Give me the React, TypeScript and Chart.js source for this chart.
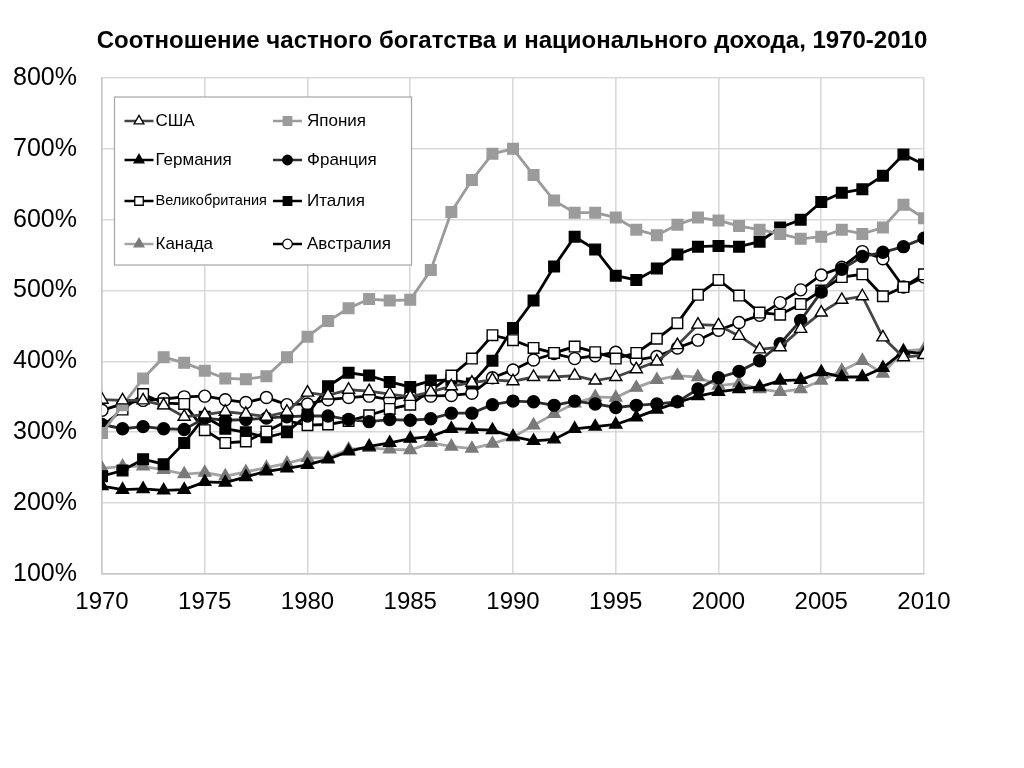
import React, { useEffect, useRef } from "react";
import { Chart, registerables } from "chart.js";
import { drawPoint } from "chart.js/helpers";

Chart.register(...registerables);

const years = [
  1970, 1971, 1972, 1973, 1974, 1975, 1976, 1977, 1978, 1979,
  1980, 1981, 1982, 1983, 1984, 1985, 1986, 1987, 1988, 1989,
  1990, 1991, 1992, 1993, 1994, 1995, 1996, 1997, 1998, 1999,
  2000, 2001, 2002, 2003, 2004, 2005, 2006, 2007, 2008, 2009, 2010,
];

const usa = [346, 345, 345, 338, 322, 325, 329, 326, 322, 329, 356, 352, 360, 358, 354, 350, 357, 365, 370, 374, 372, 378, 378, 380, 373, 378, 389, 400, 423, 452, 451, 436, 417, 420, 446, 469, 487, 492, 434, 406, 409];
const japan = [299, 338, 376, 406, 398, 387, 376, 375, 379, 406, 435, 457, 475, 488, 486, 487, 529, 611, 656, 693, 700, 663, 627, 610, 610, 603, 586, 578, 593, 603, 599, 591, 586, 580, 573, 576, 586, 580, 589, 621, 602];
const germany = [224, 219, 220, 218, 219, 230, 229, 237, 245, 249, 254, 262, 273, 280, 285, 291, 294, 305, 304, 303, 294, 288, 290, 305, 308, 311, 321, 332, 342, 351, 357, 361, 364, 373, 374, 385, 378, 378, 391, 414, 411];
const france = [311, 305, 308, 305, 304, 320, 317, 318, 320, 322, 323, 323, 318, 315, 318, 317, 319, 327, 327, 339, 344, 343, 338, 344, 340, 335, 338, 340, 343, 361, 377, 386, 401, 425, 458, 498, 530, 548, 554, 562, 574];
const uk = [308, 332, 354, 341, 340, 303, 285, 287, 301, 316, 310, 311, 316, 324, 333, 339, 359, 380, 404, 437, 430, 419, 412, 421, 413, 404, 412, 432, 454, 494, 515, 493, 469, 466, 481, 500, 519, 523, 492, 505, 523];
const italy = [238, 246, 262, 255, 285, 322, 305, 300, 293, 300, 325, 365, 384, 380, 371, 364, 373, 374, 369, 401, 447, 486, 534, 576, 558, 521, 515, 531, 551, 562, 563, 562, 569, 589, 600, 625, 638, 643, 662, 692, 678];
const canada = [249, 252, 252, 247, 241, 243, 238, 244, 250, 256, 264, 264, 276, 278, 276, 275, 285, 280, 277, 284, 293, 310, 326, 341, 350, 349, 363, 374, 380, 378, 366, 369, 361, 357, 361, 373, 387, 401, 383, 415, 417];
const australia = [331, 340, 345, 347, 350, 351, 346, 342, 349, 339, 340, 346, 349, 351, 346, 351, 351, 352, 355, 377, 388, 402, 411, 404, 408, 413, 402, 407, 419, 430, 444, 455, 465, 483, 501, 522, 533, 555, 545, 505, 519];

const titleText = "Соотношение частного богатства и национального дохода, 1970-2010";
const xMin = 1970;
const xMax = 2010;
const yMin = 100;
const yMax = 800;

const FONT = '"Liberation Sans", Arial, Helvetica, sans-serif';

type Series = {
  label: string;
  values: number[];
  line: string;
  fill: string;
  stroke: string;
  style: "triangle" | "rect" | "circle";
  radius: number;
  col: number;
  row: number;
  small?: boolean;
};

const series: Series[] = [
  { label: "США", values: usa, line: "#454545", fill: "#ffffff", stroke: "#000000", style: "triangle", radius: 7, col: 0, row: 0 },
  { label: "Япония", values: japan, line: "#9b9b9b", fill: "#9b9b9b", stroke: "#9b9b9b", style: "rect", radius: 7.5, col: 1, row: 0 },
  { label: "Германия", values: germany, line: "#000000", fill: "#000000", stroke: "#000000", style: "triangle", radius: 7, col: 0, row: 1 },
  { label: "Франция", values: france, line: "#2e2e2e", fill: "#000000", stroke: "#000000", style: "circle", radius: 6, col: 1, row: 1 },
  { label: "Великобритания", values: uk, line: "#000000", fill: "#ffffff", stroke: "#000000", style: "rect", radius: 7.5, col: 0, row: 2, small: true },
  { label: "Италия", values: italy, line: "#000000", fill: "#000000", stroke: "#000000", style: "rect", radius: 7.5, col: 1, row: 2 },
  { label: "Канада", values: canada, line: "#a3a3a3", fill: "#7a7a7a", stroke: "#7a7a7a", style: "triangle", radius: 7, col: 0, row: 3 },
  { label: "Австралия", values: australia, line: "#000000", fill: "#ffffff", stroke: "#000000", style: "circle", radius: 6, col: 1, row: 3 },
];

const titlePlugin = {
  id: "customTitle",
  afterDraw(chart: any) {
    const ctx = chart.ctx;
    ctx.save();
    ctx.fillStyle = "#000";
    ctx.font = `bold 24px ${FONT}`;
    ctx.textAlign = "center";
    ctx.textBaseline = "middle";
    ctx.fillText(titleText, chart.width / 2, 41);
    ctx.restore();
  },
};

const legendPlugin = {
  id: "insideLegend",
  afterDatasetsDraw(chart: any) {
    const ctx = chart.ctx;
    const a = chart.chartArea;
    const bx = a.left + 12.5;
    const by = a.top + 19;
    const bw = 297;
    const bh = 168;
    ctx.save();
    ctx.fillStyle = "#ffffff";
    ctx.fillRect(bx, by, bw, bh);
    ctx.strokeStyle = "#a6a6a6";
    ctx.lineWidth = 1.2;
    ctx.strokeRect(bx, by, bw, bh);
    const colLine = [a.left + 22.5, a.left + 171];
    const rowY = [a.top + 43, a.top + 82, a.top + 123, a.top + 166];
    series.forEach((s) => {
      const x0 = colLine[s.col];
      const x1 = x0 + 29;
      const y = rowY[s.row];
      ctx.strokeStyle = s.line;
      ctx.lineWidth = 2.5;
      ctx.beginPath();
      ctx.moveTo(x0, y);
      ctx.lineTo(x1, y);
      ctx.stroke();
      ctx.fillStyle = s.fill;
      ctx.strokeStyle = s.stroke;
      ctx.lineWidth = 1.3;
      drawPoint(ctx, { pointStyle: s.style, radius: s.radius * 0.8, borderWidth: 1.3, rotation: 0 } as any, (x0 + x1) / 2, y);
      ctx.fillStyle = "#000";
      ctx.font = s.small ? `14.5px ${FONT}` : `17px ${FONT}`;
      ctx.textAlign = "left";
      ctx.textBaseline = "middle";
      ctx.fillText(s.label, x1 + (s.col === 0 ? 2 : 5), y);
    });
    ctx.restore();
  },
};

export default function App() {
  const ref = useRef<HTMLCanvasElement | null>(null);

  useEffect(() => {
    if (!ref.current) return;
    const datasets = series.map((s) => ({
      label: s.label,
      data: years.map((yr, i) => ({ x: yr, y: s.values[i] })),
      borderColor: s.line,
      backgroundColor: s.fill,
      borderWidth: 2.8,
      pointStyle: s.style,
      pointRadius: s.radius,
      pointBackgroundColor: s.fill,
      pointBorderColor: s.stroke,
      pointBorderWidth: 1.4,
      tension: 0,
      fill: false,
    }));

    const chart = new Chart(ref.current, {
      type: "line",
      data: { datasets },
      plugins: [titlePlugin, legendPlugin],
      options: {
        animation: false,
        responsive: false,
        devicePixelRatio: 1,
        layout: { padding: { top: 78, right: 100, left: 0, bottom: 0 } },
        plugins: {
          legend: { display: false },
          title: { display: false },
          tooltip: { enabled: false },
        },
        scales: {
          x: {
            type: "linear",
            min: xMin,
            max: xMax,
            afterFit(scale: any) {
              scale.height = 194;
            },
            ticks: {
              stepSize: 5,
              color: "#000",
              font: { size: 24, family: FONT },
              padding: 14,
              maxRotation: 0,
              callback: (v: any) => String(v),
            },
            grid: { color: "#d9d9d9", lineWidth: 1.6, drawTicks: false },
            border: { color: "#c8c8c8", width: 1.6 },
          },
          y: {
            min: yMin,
            max: yMax,
            afterFit(scale: any) {
              scale.width = 102;
            },
            ticks: {
              stepSize: 100,
              color: "#000",
              font: { size: 25, family: FONT },
              padding: 25,
              callback: (v: any) => `${v}%`,
            },
            grid: { color: "#d9d9d9", lineWidth: 1.6, drawTicks: false },
            border: { color: "#c8c8c8", width: 1.6 },
          },
        },
      },
    });
    return () => chart.destroy();
  }, []);

  return (
    <div style={{ position: "absolute", left: 0, top: 0, width: 1024, height: 768, background: "#fff" }}>
      <canvas ref={ref} width={1024} height={768} style={{ display: "block", width: 1024, height: 768 }} />
    </div>
  );
}
